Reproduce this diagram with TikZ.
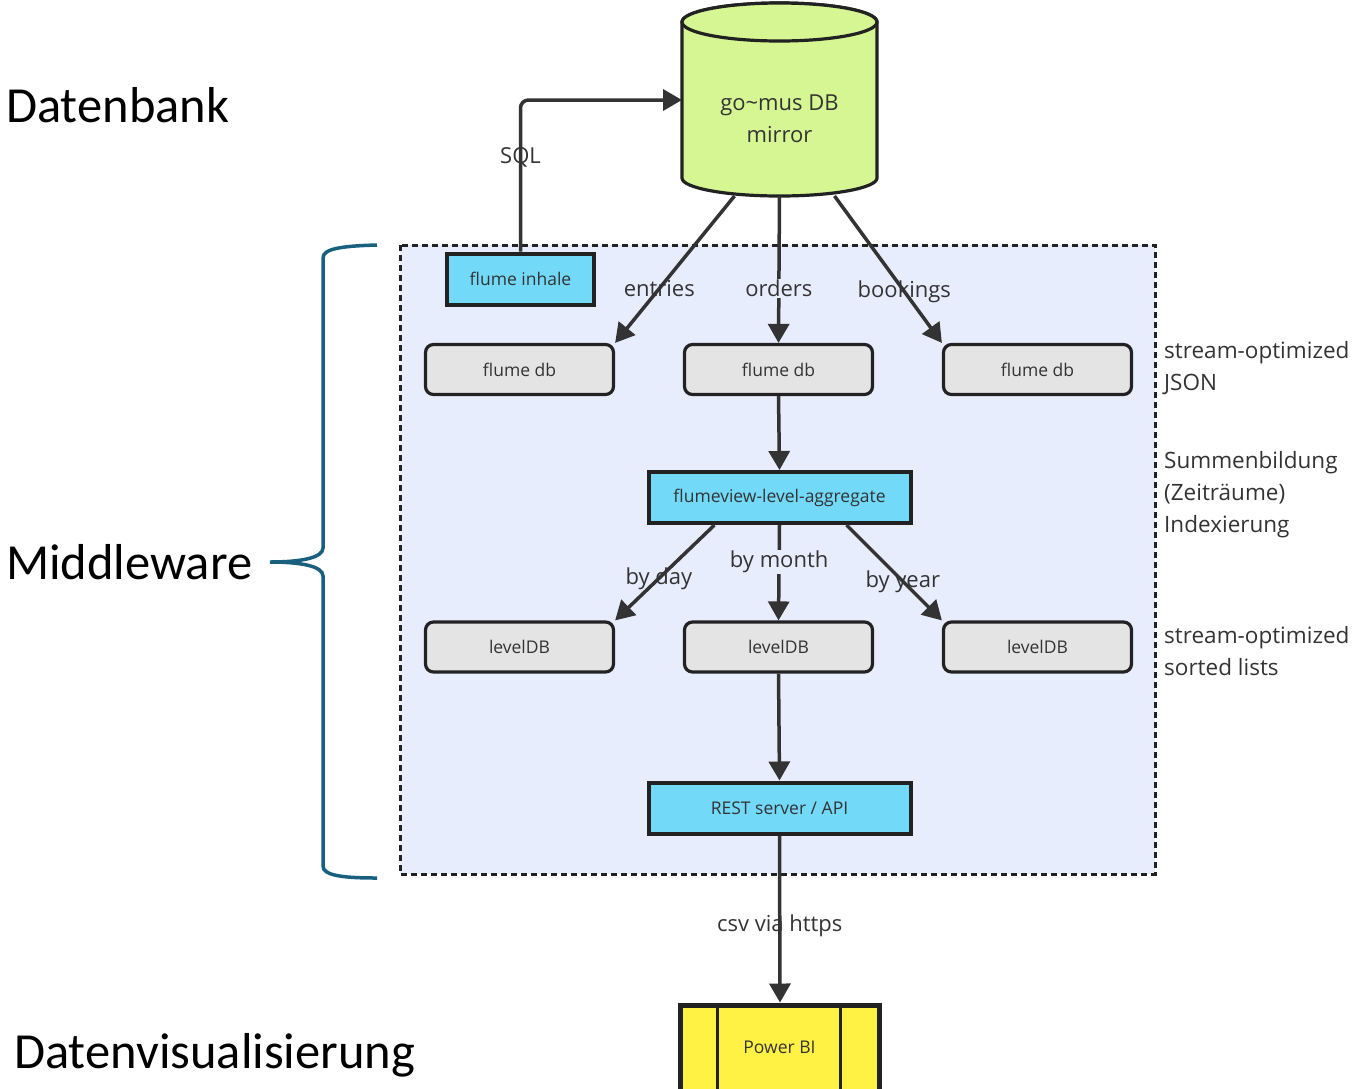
\documentclass[tikz,border=0pt]{standalone}
\usepackage{fontspec}
\setmainfont{Open Sans}
\newfontfamily\headfont{Carlito}
\usetikzlibrary{arrows.meta}
\definecolor{ink}{HTML}{333333}
\definecolor{frame}{HTML}{222222}
\definecolor{mwbg}{HTML}{E8EDFE}
\definecolor{cyanfill}{HTML}{72D9F9}
\definecolor{greyfill}{HTML}{E4E4E4}
\definecolor{dbgreen}{HTML}{D6F693}
\definecolor{pbiyellow}{HTML}{FFF245}
\definecolor{bracecol}{HTML}{19607F}
\begin{document}
\begin{tikzpicture}[x=1pt,y=-1pt,
  every node/.style={text=ink},
  edge/.style={draw=ink,line width=3.5pt,-{Triangle[length=19pt,width=21pt]}},
  proc/.style={draw=frame,line width=4pt,fill=cyanfill,minimum height=51pt,inner sep=0pt,font=\fontsize{17.5}{20}\selectfont},
  store/.style={draw=frame,line width=3.2pt,rounded corners=8pt,fill=greyfill,minimum width=188pt,minimum height=50pt,inner sep=0pt,font=\fontsize{17.5}{20}\selectfont},
  elabel/.style={font=\fontsize{22}{26}\selectfont,inner sep=1pt},
  note/.style={anchor=west,align=left,inner sep=0pt,font=\fontsize{22.5}{32}\selectfont},
  head/.style={anchor=west,inner sep=0pt,text=black,font=\headfont\fontsize{50.5}{60}\selectfont}]
  \useasboundingbox (0,0) rectangle (1357,1088);
  \draw[fill=mwbg,draw=frame,line width=3pt,dash pattern=on 6pt off 4pt] (400,245) rectangle (1155,874);
  \draw[bracecol,line width=3.5pt] (377,245) .. controls (340,246) and (323,249) .. (323,258) -- (323,548)
    .. controls (323,558) and (300,562) .. (270,562) .. controls (300,562) and (323,566) .. (323,576)
    -- (323,866) .. controls (323,875) and (340,878) .. (377,878);
  \node[head] (hdb) at (6,105) {Datenbank};
  \node[head] (hmw) at (6,562) {Middleware};
  \node[head] (hvis) at (14,1055) {Datenvisualisierung};
  \draw[draw=frame,line width=3.2pt,fill=dbgreen] (682,22) -- (682,178) arc[start angle=180,end angle=360,x radius=97.5pt,y radius=18pt]
    -- (877,22) arc[start angle=0,end angle=180,x radius=97.5pt,y radius=19pt] -- cycle;
  \draw[draw=frame,line width=3.2pt,fill=dbgreen] (779.5,22) ellipse [x radius=97.5pt,y radius=19pt];
  \node[minimum width=195pt,minimum height=192pt,inner sep=0pt,outer sep=0pt] (db) at (779.5,100) {};
  \node[align=center,font=\fontsize{22}{32}\selectfont] (dbtext) at (779.5,119) {go\textasciitilde mus DB\\mirror};
  \node[proc,minimum width=147pt] (inhale) at (520.5,279) {flume inhale};
  \node[store] (fdb1) at (519.5,369.5) {flume db};
  \node[store] (fdb2) at (778.5,369.5) {flume db};
  \node[store] (fdb3) at (1037.5,369.5) {flume db};
  \node[proc,minimum width=262pt] (agg) at (779.5,497.5) {flumeview-level-aggregate};
  \node[store] (ldb1) at (519.5,647) {levelDB};
  \node[store] (ldb2) at (778.5,647) {levelDB};
  \node[store] (ldb3) at (1037.5,647) {levelDB};
  \node[proc,minimum width=262pt] (rest) at (779.5,808) {REST server / API};
  \node[draw=frame,line width=5pt,fill=pbiyellow,minimum width=199pt,minimum height=120pt,inner sep=0pt] (pbi) at (780,1065) {};
  \draw[frame,line width=3pt] ([xshift=39pt]pbi.north west) -- ([xshift=39pt]pbi.south west);
  \draw[frame,line width=3pt] ([xshift=-42pt]pbi.north east) -- ([xshift=-42pt]pbi.south east);
  \node[font=\fontsize{17.5}{20}\selectfont] (pbitext) at (779.5,1047) {Power BI};
  \node[note] (n1) at (1164,368) {stream-optimized\\JSON};
  \node[note] (n2) at (1164,495) {Summenbildung\\(Zeiträume)\\Indexierung};
  \node[note] (n3) at (1164,651) {stream-optimized\\sorted lists};
  \draw[edge,rounded corners=8pt] (inhale.north) |- (db.west) node[pos=0.31,elabel] {SQL};
  \draw[edge] ([xshift=-45pt]db.south) -- (fdb1.north east) node[pos=0.63,elabel] {entries};
  \draw[edge] (db.south) -- (fdb2.north) node[pos=0.63,elabel,fill=mwbg] {orders};
  \draw[edge] ([xshift=55pt]db.south) -- (fdb3.north west) node[pos=0.65,elabel] {bookings};
  \draw[edge] (fdb2.south) -- (agg.north);
  \draw[edge] ([xshift=-65pt]agg.south) -- (ldb1.north east) node[pos=0.56,elabel] {by day};
  \draw[edge] (agg.south) -- (ldb2.north) node[pos=0.39,elabel,fill=mwbg] {by month};
  \draw[edge] ([xshift=67pt]agg.south) -- (ldb3.north west) node[pos=0.59,elabel] {by year};
  \draw[edge] (ldb2.south) -- (rest.north);
  \draw[edge] (rest.south) -- (pbi.north) node[pos=0.54,elabel] {csv via https};
\end{tikzpicture}
\end{document}
